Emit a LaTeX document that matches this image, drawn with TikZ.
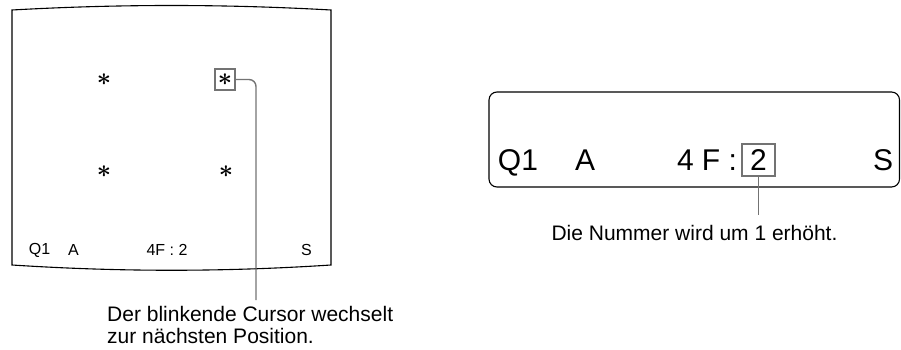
\documentclass[tikz,border=0pt]{standalone}
\usepackage{fontspec}
\setmainfont{Liberation Sans}
\usetikzlibrary{positioning}

\begin{document}
\begin{tikzpicture}[x=1pt, y=-1pt]
    % Styles
    \tikzstyle{osd} = [inner sep=0pt, font=\fontsize{16}{18}\selectfont]
    \tikzstyle{star} = [inner sep=0pt, font=\fontsize{26}{26}\selectfont\boldmath]
    \tikzstyle{lcd} = [inner sep=0pt, anchor=base, font=\fontsize{30}{32}\selectfont]
    \tikzstyle{cursor} = [draw=black!55, line width=1.6pt, inner sep=0pt]
    \tikzstyle{caption} = [inner sep=0pt, align=left, font=\fontsize{21}{22}\selectfont]
    \tikzstyle{callout} = [draw=black!55, line width=1.4pt, rounded corners=7pt]

    \useasboundingbox (0,0) rectangle (901,350);

    % Screen
    \draw [line width=1.1pt] (12,10) .. controls (120,4) and (223,4) .. (331,10)
        -- (331,265) .. controls (223,272) and (120,272) .. (12,265) -- cycle;
    \node [star] (ast1) at (104,80) {$\ast$};
    \node [star, cursor, minimum width=20pt, minimum height=21pt] (ast2) at (225,79.5) {$\ast$};
    \node [star] (ast3) at (104,172) {$\ast$};
    \node [star] (ast4) at (226,172) {$\ast$};
    \node [osd] (sq) at (39.5,250) {Q1};
    \node [osd] (sa) at (73.5,250) {A};
    \node [osd] (sf) at (167,250) {4F : 2};
    \node [osd] (ss) at (306.5,250) {S};

    % Display
    \draw [line width=1.1pt, rounded corners=8pt] (489,92) rectangle (899.5,187);
    \node [lcd] (dq) at (518,170) {Q1};
    \node [lcd] (da) at (585,170) {A};
    \node [lcd] (df) at (707,170) {4 F :};
    \node [lcd, cursor, anchor=center, minimum width=33pt, minimum height=32pt] (dn) at (758.5,160) {2};
    \node [lcd] (ds) at (883,170) {S};

    % Captions
    \coordinate (c1) at (256,300);
    \coordinate (c2) at (758.5,215);
    \node [caption, anchor=north west] (cap1) at (107,306) {Der blinkende Cursor wechselt\\zur nächsten Position.};
    \node [caption] (cap2) at (694.5,233) {Die Nummer wird um 1 erhöht.};

    % Lines
    \draw [callout] (ast2.east) -| (c1);
    \draw [callout] (dn.south) -- (c2);
\end{tikzpicture}
\end{document}
